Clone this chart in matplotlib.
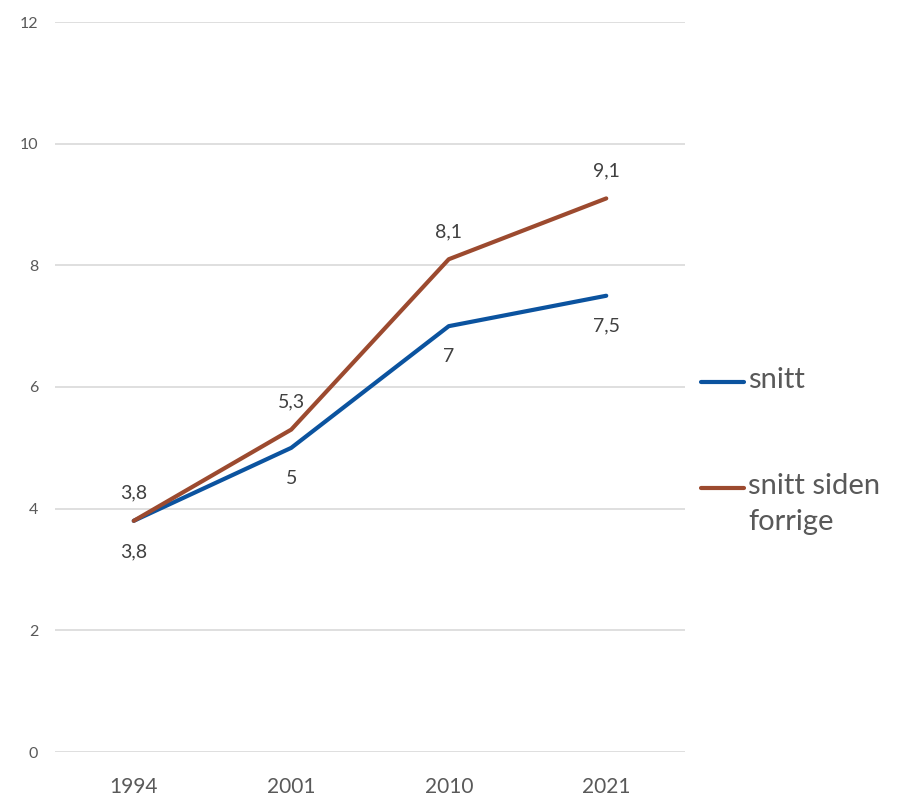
import matplotlib.pyplot as plt
from matplotlib.lines import Line2D
import numpy as np

plt.rcParams['font.family'] = ['Lato', 'DejaVu Sans']

years = ['1994', '2001', '2010', '2021']
snitt = [3.8, 5.0, 7.0, 7.5]
snitt_siden = [3.8, 5.3, 8.1, 9.1]
labels_snitt = ['3,8', '5', '7', '7,5']
labels_siden = ['3,8', '5,3', '8,1', '9,1']
legend_names = ['snitt', 'snitt siden\nforrige']

blue = '#0B539F'
brown = '#9C4A2F'
grid_col = '#D9D9D9'
txt = '#595959'

W, H = 900, 796
fig = plt.figure(figsize=(9, 7.96), dpi=100)
ax = fig.add_axes([55 / W, 44 / H, 630 / W, 730 / H])

x = np.arange(len(years))
ax.plot(x, snitt, color=blue, lw=3, solid_capstyle='round', zorder=3)
ax.plot(x, snitt_siden, color=brown, lw=3, solid_capstyle='round', zorder=3)

for xi, v, s in zip(x, snitt, labels_snitt):
    ax.annotate(s, (xi, v), xytext=(0, -22), textcoords='offset points',
                ha='center', va='center', fontsize=14, color='#404040')
for xi, v, s in zip(x, snitt_siden, labels_siden):
    ax.annotate(s, (xi, v), xytext=(0, 20), textcoords='offset points',
                ha='center', va='center', fontsize=14, color='#404040')

ax.set_xlim(-0.5, 3.5)
ax.set_ylim(0, 12)
ax.set_yticks(range(0, 13, 2))
ax.set_xticks(x)
ax.set_xticklabels(years)
ax.grid(axis='y', color=grid_col, lw=1.2)
ax.set_axisbelow(True)
for sp in ax.spines.values():
    sp.set_visible(False)
ax.tick_params(axis='y', length=0, labelsize=11.5, labelcolor=txt, pad=12)
ax.tick_params(axis='x', length=0, labelsize=15, labelcolor=txt, pad=18)

# legend drawn by hand: handle aligned with first text line
for (yy, col, name) in [(382, blue, legend_names[0]), (488, brown, legend_names[1])]:
    fy = 1 - yy / H
    fig.add_artist(Line2D([701 / W, 744 / W], [fy, fy], color=col, lw=3,
                          solid_capstyle='round', transform=fig.transFigure))
    fig.text(748 / W, fy + 0.0185, name, ha='left', va='top', fontsize=21,
             color=txt, linespacing=1.45)

fig.savefig('out.png', dpi=100)
